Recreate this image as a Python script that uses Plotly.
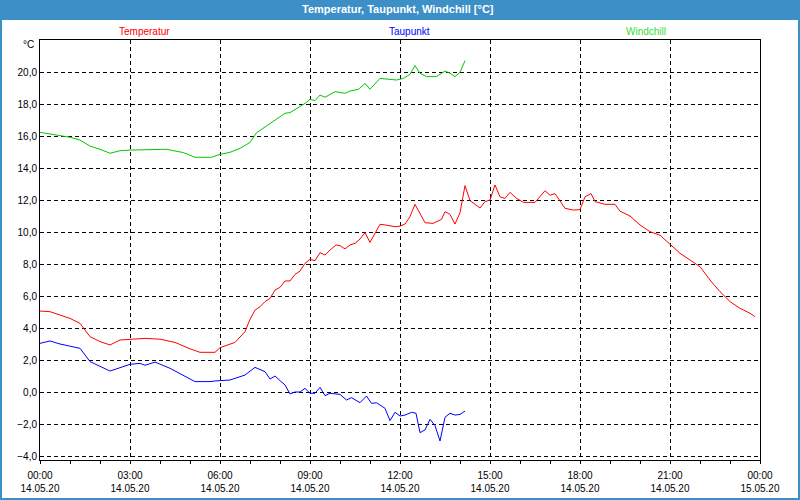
import plotly.graph_objects as go

DAY = "2020-05-14"

temp_times = ["00:00","00:20","00:40","01:00","01:20","01:40","02:00","02:20","02:40","03:00","03:30","04:00","04:30","05:00","05:20","05:50","06:00","06:30","06:50","07:00","07:10","07:20","07:30","07:40","07:50","08:00","08:10","08:20","08:30","08:40","08:50","09:00","09:10","09:20","09:30","09:40","09:52","10:00","10:10","10:20","10:30","10:40","10:50","11:00","11:10","11:20","11:30","11:50","12:00","12:10","12:20","12:30","12:50","13:06","13:23","13:30","13:40","13:50","14:00","14:10","14:20","14:40","14:50","15:00","15:10","15:20","15:30","15:40","15:53","16:07","16:30","16:50","17:00","17:10","17:30","17:47","18:00","18:10","18:22","18:30","18:50","19:10","19:20","19:40","20:00","20:20","20:40","21:00","21:20","21:40","22:00","22:20","22:40","23:00","23:20","23:40","23:50"]
temp_vals = [5.06,5.02,4.81,4.6,4.29,3.46,3.15,2.94,3.25,3.3,3.35,3.3,3.1,2.7,2.48,2.48,2.77,3.1,3.77,4.54,5.12,5.33,5.65,5.85,6.37,6.54,6.94,6.94,7.35,7.56,8.04,8.29,8.21,8.71,8.56,8.87,9.19,9.15,8.94,9.19,9.29,9.56,9.96,9.35,9.96,10.48,10.44,10.33,10.37,10.5,10.96,11.73,10.58,10.54,10.79,11.27,11.1,10.5,11.2,12.9,11.96,11.5,11.9,12.0,12.94,12.2,12.1,12.48,12.1,11.85,11.85,12.58,12.3,12.4,11.48,11.37,11.4,12.2,12.4,11.9,11.73,11.73,11.3,11.0,10.44,10.02,9.8,9.23,8.67,8.25,7.83,7.0,6.27,5.65,5.23,4.92,4.71]

dew_times = ["00:00","00:20","00:40","01:00","01:20","01:40","02:00","02:20","03:00","03:20","03:30","03:50","04:20","05:10","05:40","05:50","06:20","06:50","07:10","07:30","07:40","07:50","08:00","08:10","08:20","08:30","08:40","08:50","09:00","09:10","09:20","09:30","09:40","10:00","10:13","10:23","10:40","10:53","11:03","11:13","11:30","11:40","11:50","12:00","12:10","12:23","12:32","12:40","12:50","13:00","13:10","13:20","13:30","13:40","13:50","14:00","14:10"]
dew_vals = [3.04,3.19,3.0,2.85,2.73,1.9,1.58,1.31,1.73,1.79,1.67,1.87,1.48,0.65,0.65,0.69,0.75,1.06,1.54,1.27,0.81,1.0,0.71,0.44,-0.12,0.0,0.0,0.23,-0.08,-0.08,0.29,-0.23,-0.08,-0.15,-0.5,-0.35,-0.67,-0.25,-0.71,-0.67,-1.02,-1.79,-1.27,-1.5,-1.44,-1.27,-1.33,-2.54,-2.37,-1.71,-2.1,-3.06,-1.58,-1.33,-1.44,-1.4,-1.19]

wind_times = ["00:00","00:20","01:00","01:20","01:40","02:00","02:20","02:40","03:00","04:13","04:47","05:10","05:43","06:00","06:20","06:40","07:00","07:13","07:40","08:00","08:10","08:20","08:40","08:50","09:00","09:10","09:20","09:30","09:50","10:10","10:20","10:37","10:50","11:00","11:20","11:40","11:53","12:07","12:20","12:30","12:40","12:53","13:13","13:30","13:40","13:50","14:00","14:10"]
wind_vals = [16.23,16.12,15.92,15.75,15.37,15.17,14.92,15.08,15.12,15.17,14.96,14.67,14.67,14.85,14.98,15.23,15.6,16.2,16.79,17.17,17.42,17.46,17.83,18.04,18.29,18.21,18.56,18.42,18.77,18.67,18.81,18.92,19.29,18.92,19.6,19.56,19.5,19.6,19.85,20.4,19.92,19.71,19.71,20.06,19.92,19.71,19.98,20.71]

x_tick_times = ["2020-05-14 00:00","2020-05-14 03:00","2020-05-14 06:00","2020-05-14 09:00","2020-05-14 12:00","2020-05-14 15:00","2020-05-14 18:00","2020-05-14 21:00","2020-05-15 00:00"]
x_tick_labels = ["00:00<br>14.05.20","03:00<br>14.05.20","06:00<br>14.05.20","09:00<br>14.05.20","12:00<br>14.05.20","15:00<br>14.05.20","18:00<br>14.05.20","21:00<br>14.05.20","00:00<br>15.05.20"]
y_ticks = [-4, -2, 0, 2, 4, 6, 8, 10, 12, 14, 16, 18, 20]

title_text = "<b>Temperatur, Taupunkt, Windchill [°C]</b>"
series_names = ["Temperatur", "Taupunkt", "Windchill"]
series_colors = ["#ff0000", "#0000ff", "#00c800"]
legend_colors = ["#ff0000", "#0000ff", "#33dd33"]

def ts(times):
    return [f"{DAY} {t}" for t in times]

fig = go.Figure()
for name, times, vals, col in zip(series_names, [temp_times, dew_times, wind_times], [temp_vals, dew_vals, wind_vals], series_colors):
    fig.add_trace(go.Scatter(x=ts(times), y=vals, mode="lines", name=name,
                             line=dict(color=col, width=1), showlegend=False))

font = "Liberation Sans"
fig.update_layout(
    width=800, height=500,
    margin=dict(l=40, r=40, t=40, b=40, autoexpand=False),
    paper_bgcolor="white", plot_bgcolor="white",
    separators=",.",
    font=dict(family=font, size=10, color="#000000"),
)
fig.update_xaxes(
    type="date", range=["2020-05-14 00:00", "2020-05-15 00:00"],
    tickvals=x_tick_times, ticktext=x_tick_labels, automargin=False,
    showline=True, linecolor="black", linewidth=1, mirror=True,
    ticks="outside", ticklen=3, tickcolor="black", ticklabelstandoff=3,
    showgrid=True, gridcolor="black", griddash="4px,3px", gridwidth=1,
    minor=dict(dtick=3600000, ticks="outside", ticklen=3, tickcolor="black", showgrid=False),
    tickfont=dict(size=10, family=font), zeroline=False,
)
fig.update_yaxes(
    range=[-4.25, 22.0], tickvals=y_ticks, tickformat=".1f", automargin=False,
    showline=True, linecolor="black", linewidth=1, mirror=True,
    ticks="", showgrid=True, gridcolor="black", griddash="4px,3px", gridwidth=1,
    zeroline=False, tickfont=dict(size=10, family=font),
)

# title bar and window border
fig.add_shape(type="rect", xref="paper", yref="paper",
              x0=-40/720, x1=760/720, y0=440/420, y1=460/420,
              fillcolor="#3d8fc8", line=dict(width=0), layer="below")
for (x0, x1, y0, y1) in [(-40/720, -38/720, -40/420, 460/420), (758/720, 760/720, -40/420, 460/420), (-40/720, 760/720, -40/420, -38/420)]:
    fig.add_shape(type="rect", xref="paper", yref="paper", x0=x0, x1=x1, y0=y0, y1=y1,
                  fillcolor="#3d8fc8", line=dict(width=0))

fig.add_annotation(text=title_text, xref="paper", yref="paper", x=358/720, y=(460-9)/420,
                   showarrow=False, font=dict(family=font, size=11, color="white"),
                   xanchor="center", yanchor="middle")
for name, col, px in zip(series_names, legend_colors, [144, 410, 646]):
    fig.add_annotation(text=name, xref="paper", yref="paper", x=(px-40)/720, y=(460-31)/420,
                       showarrow=False, font=dict(family=font, size=10, color=col),
                       xanchor="center", yanchor="middle")
fig.add_annotation(text="°C", xref="paper", yref="paper", x=-4/720, y=(460-45)/420,
                   showarrow=False, font=dict(family=font, size=10, color="black"),
                   xanchor="right", yanchor="middle")

fig.write_html("out.html")
